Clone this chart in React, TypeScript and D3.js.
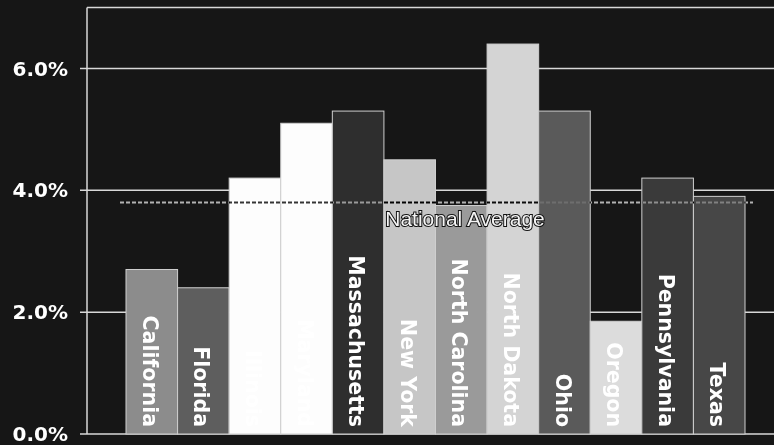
import React from "react";
import * as d3 from "d3";

// Share of state values, in percent
const states = [
  "California",
  "Florida",
  "Illinois",
  "Maryland",
  "Massachusetts",
  "New York",
  "North Carolina",
  "North Dakota",
  "Ohio",
  "Oregon",
  "Pennsylvania",
  "Texas",
];
const values = [2.7, 2.4, 4.2, 5.1, 5.3, 4.5, 3.75, 6.4, 5.3, 1.85, 4.2, 3.9];
const fills = [
  "#8c8c8c",
  "#5e5e5e",
  "#fdfdfd",
  "#fdfdfd",
  "#2e2e2e",
  "#c6c6c6",
  "#9a9a9a",
  "#d4d4d4",
  "#5a5a5a",
  "#dcdcdc",
  "#3a3a3a",
  "#474747",
];
const nationalAverage = 3.8;
const averageLabel = "National Average";
const yTicks = [0, 2, 4, 6];

const W = 774;
const H = 445;
const plotLeft = 87;
const plotTop = 7.5;
const plotBottom = 434;
const plotRight = 774;

export default function App() {
  const y = d3.scaleLinear().domain([0, 7]).range([plotBottom, plotTop]);
  const x = d3.scaleBand<string>().domain(states).range([126, 745]).paddingInner(0);
  const fmt = d3.format(".1%");
  const axisColor = "#d8d8d8";

  return (
    <svg
      width={W}
      height={H}
      style={{ position: "fixed", left: 0, top: 0, display: "block" }}
    >
      <rect x={0} y={0} width={W} height={H} fill="#161616" />

      {/* gridlines and ticks */}
      {yTicks.map((t) => (
        <g key={t}>
          <line
            x1={plotLeft - 7}
            x2={plotRight}
            y1={y(t)}
            y2={y(t)}
            stroke={axisColor}
            strokeWidth={1.5}
          />
          <text
            x={68}
            y={y(t)}
            dy="0.36em"
            textAnchor="end"
            fill="#ffffff"
            fontFamily="DejaVu Sans"
            fontWeight="bold"
            fontSize={20}
          >
            {fmt(t / 100)}
          </text>
        </g>
      ))}
      <line x1={plotLeft} x2={plotRight} y1={y(7)} y2={y(7)} stroke={axisColor} strokeWidth={1.5} />
      <line x1={plotLeft} x2={plotLeft} y1={y(7)} y2={plotBottom} stroke={axisColor} strokeWidth={1.5} />

      {/* bars */}
      {states.map((s, i) => (
        <rect
          key={s}
          x={x(s)!}
          y={y(values[i])}
          width={x.bandwidth()}
          height={plotBottom - y(values[i])}
          fill={fills[i]}
          stroke="#cfcfcf"
          strokeWidth={1}
        />
      ))}

      {/* bar labels, running down each bar */}
      {states.map((s) => {
        const cx = x(s)! + x.bandwidth() / 2 - 1.5;
        const by = plotBottom - 7;
        return (
          <text
            key={s}
            transform={`translate(${cx},${by}) rotate(90)`}
            textAnchor="end"
            dy="0.36em"
            fill="#ffffff"
            fontFamily="DejaVu Sans"
            fontWeight="bold"
            fontSize={20.5}
          >
            {s}
          </text>
        );
      })}

      {/* national average reference line */}
      <line
        x1={120}
        x2={753}
        y1={y(nationalAverage)}
        y2={y(nationalAverage)}
        stroke="#c8c8c8"
        strokeWidth={2}
        strokeDasharray="4,2"
        style={{ mixBlendMode: "difference" }}
      />
      <text
        x={465}
        y={226}
        textAnchor="middle"
        fill="#f4f4f4"
        stroke="#111"
        strokeWidth={2}
        paintOrder="stroke"
        fontFamily="Liberation Sans"
        fontSize={21}
      >
        {averageLabel}
      </text>
    </svg>
  );
}
